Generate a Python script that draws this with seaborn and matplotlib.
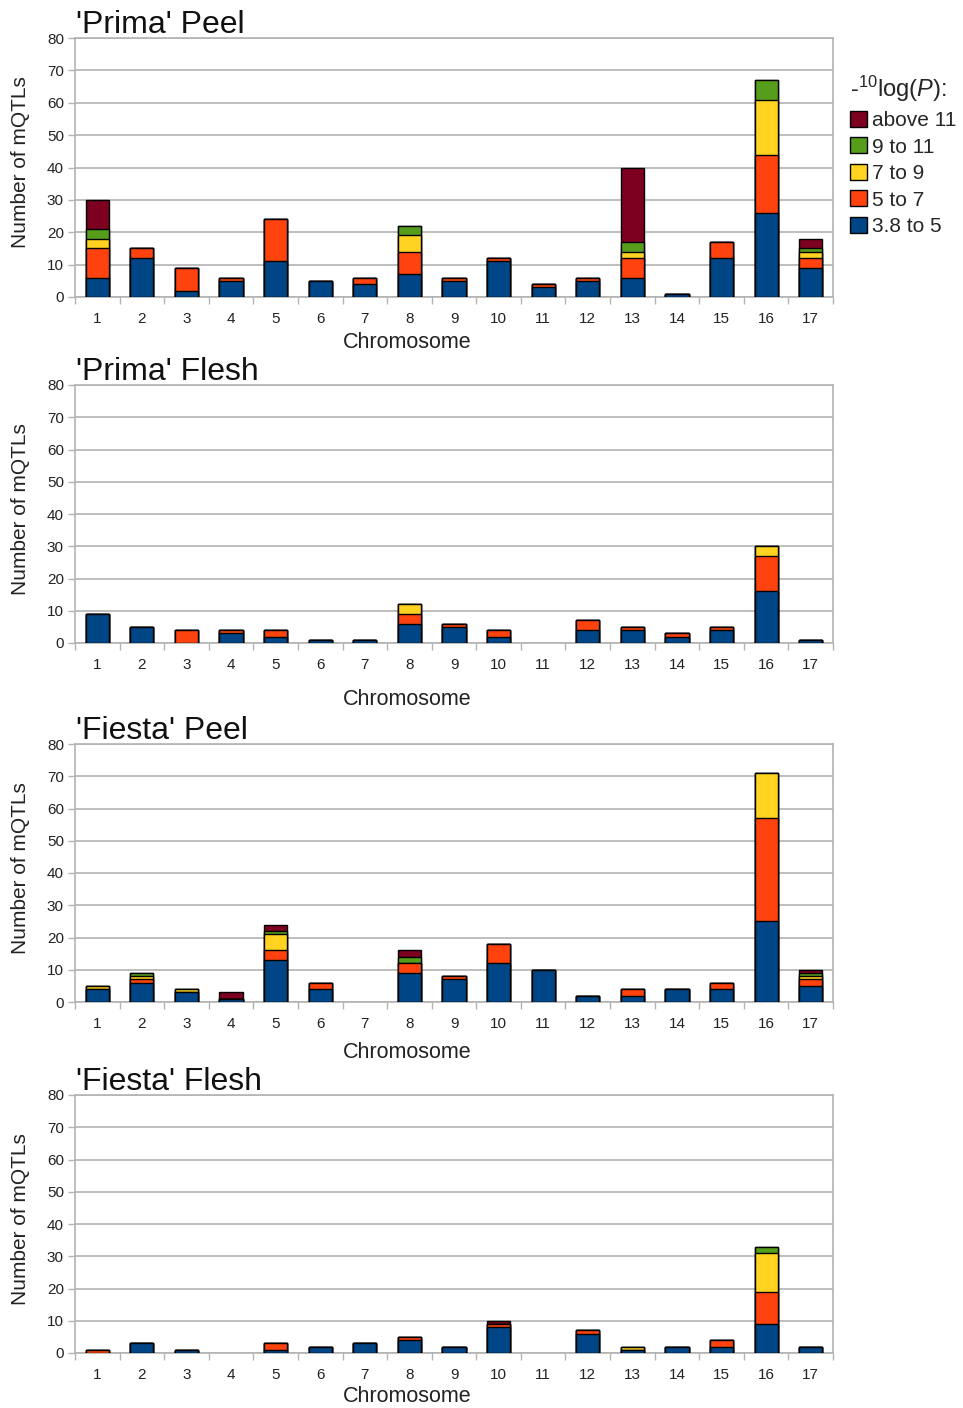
import numpy as np
import pandas as pd
import matplotlib
matplotlib.use("Agg")
import matplotlib.pyplot as plt
from matplotlib.patches import Patch
import seaborn as sns

# Chromosome categories
chromosomes = [str(i) for i in range(1, 18)]

# Significance classes (-10log(P)), bottom to top of each stack
classes = ["3.8 to 5", "5 to 7", "7 to 9", "9 to 11", "above 11"]
class_colors = ["#004586", "#ff420e", "#ffd320", "#579d1c", "#7e0021"]

# 'Prima' Peel
prima_peel_38_5 = [6, 12, 2, 5, 11, 5, 4, 7, 5, 11, 3, 5, 6, 1, 12, 26, 9]
prima_peel_5_7 = [9, 3, 7, 1, 13, 0, 2, 7, 1, 1, 1, 1, 6, 0, 5, 18, 3]
prima_peel_7_9 = [3, 0, 0, 0, 0, 0, 0, 5, 0, 0, 0, 0, 2, 0, 0, 17, 2]
prima_peel_9_11 = [3, 0, 0, 0, 0, 0, 0, 3, 0, 0, 0, 0, 3, 0, 0, 6, 1]
prima_peel_11 = [9, 0, 0, 0, 0, 0, 0, 0, 0, 0, 0, 0, 23, 0, 0, 0, 3]

# 'Prima' Flesh
prima_flesh_38_5 = [9, 5, 0, 3, 2, 1, 1, 6, 5, 2, 0, 4, 4, 2, 4, 16, 1]
prima_flesh_5_7 = [0, 0, 4, 1, 2, 0, 0, 3, 1, 2, 0, 3, 1, 1, 1, 11, 0]
prima_flesh_7_9 = [0, 0, 0, 0, 0, 0, 0, 3, 0, 0, 0, 0, 0, 0, 0, 3, 0]
prima_flesh_9_11 = [0] * 17
prima_flesh_11 = [0] * 17

# 'Fiesta' Peel
fiesta_peel_38_5 = [4, 6, 3, 1, 13, 4, 0, 9, 7, 12, 10, 2, 2, 4, 4, 25, 5]
fiesta_peel_5_7 = [0, 1, 0, 0, 3, 2, 0, 3, 1, 6, 0, 0, 2, 0, 2, 32, 2]
fiesta_peel_7_9 = [1, 1, 1, 0, 5, 0, 0, 0, 0, 0, 0, 0, 0, 0, 0, 14, 1]
fiesta_peel_9_11 = [0, 1, 0, 0, 1, 0, 0, 2, 0, 0, 0, 0, 0, 0, 0, 0, 1]
fiesta_peel_11 = [0, 0, 0, 2, 2, 0, 0, 2, 0, 0, 0, 0, 0, 0, 0, 0, 1]

# 'Fiesta' Flesh
fiesta_flesh_38_5 = [0, 3, 1, 0, 1, 2, 3, 4, 2, 8, 0, 6, 1, 2, 2, 9, 2]
fiesta_flesh_5_7 = [1, 0, 0, 0, 2, 0, 0, 1, 0, 1, 0, 1, 0, 0, 2, 10, 0]
fiesta_flesh_7_9 = [0, 0, 0, 0, 0, 0, 0, 0, 0, 0, 0, 0, 1, 0, 0, 12, 0]
fiesta_flesh_9_11 = [0, 0, 0, 0, 0, 0, 0, 0, 0, 0, 0, 0, 0, 0, 0, 2, 0]
fiesta_flesh_11 = [0, 0, 0, 0, 0, 0, 0, 0, 0, 1, 0, 0, 0, 0, 0, 0, 0]

panel_titles = ["'Prima' Peel", "'Prima' Flesh", "'Fiesta' Peel", "'Fiesta' Flesh"]
panel_layers = [
    [prima_peel_38_5, prima_peel_5_7, prima_peel_7_9, prima_peel_9_11, prima_peel_11],
    [prima_flesh_38_5, prima_flesh_5_7, prima_flesh_7_9, prima_flesh_9_11, prima_flesh_11],
    [fiesta_peel_38_5, fiesta_peel_5_7, fiesta_peel_7_9, fiesta_peel_9_11, fiesta_peel_11],
    [fiesta_flesh_38_5, fiesta_flesh_5_7, fiesta_flesh_7_9, fiesta_flesh_9_11, fiesta_flesh_11],
]
y_ticks = list(range(0, 81, 10))

sns.set_style("whitegrid")
plt.rcParams["font.family"] = ["Liberation Sans", "DejaVu Sans"]
plt.rcParams["mathtext.fontset"] = "custom"
plt.rcParams["mathtext.rm"] = "Liberation Sans"
plt.rcParams["mathtext.it"] = "Liberation Sans:italic"

W, H = 963, 1408
fig = plt.figure(figsize=(W / 100, H / 100), dpi=100)
GRID = "#b3b3b3"

# pixel geometry of each panel: (top, bottom) of the plotting area
panel_px = [(38, 297), (385, 643), (744, 1002), (1095, 1353)]
xlabel_px = [343, 700, 1052, 1397]
left_px, right_px = 75, 833

for k, (title, layers) in enumerate(zip(panel_titles, panel_layers)):
    top, bot = panel_px[k]
    ax = fig.add_axes([left_px / W, 1 - bot / H, (right_px - left_px) / W, (bot - top) / H])

    counts = np.array(layers)
    cum = np.cumsum(counts, axis=0)
    # draw cumulative totals from the top class down so each class shows as a segment
    for j in range(len(classes) - 1, -1, -1):
        df = pd.DataFrame({"chromosome": chromosomes, "total": cum[j]})
        sns.barplot(data=df, x="chromosome", y="total", order=chromosomes,
                    color=class_colors[j], saturation=1, width=0.52,
                    edgecolor="black", linewidth=1.0, errorbar=None, ax=ax, zorder=3)
    for p in ax.patches:
        if p.get_height() == 0:
            p.set_linewidth(0)

    ax.set_xlim(-0.5, 16.5)
    ax.set_ylim(0, 80)
    ax.set_yticks(y_ticks)
    ax.set_xticks(range(17))
    ax.set_xticklabels(chromosomes)
    ax.set_xticks(np.arange(-0.5, 17, 1), minor=True)
    ax.tick_params(axis="x", which="major", length=0, labelsize=11, pad=11, colors="#222222")
    ax.tick_params(axis="x", which="minor", length=5, width=1, color=GRID, direction="out",
                   bottom=True)
    ax.tick_params(axis="y", which="major", length=5, width=1, color=GRID, direction="out",
                   labelsize=11, pad=3, left=True, labelcolor="#222222")
    ax.grid(axis="y", color=GRID, linewidth=1.2, zorder=0)
    ax.grid(axis="x", visible=False)
    ax.set_axisbelow(True)
    for s in ax.spines.values():
        s.set_color(GRID)
        s.set_linewidth(1.2)
    ax.set_xlabel("")
    ax.set_ylabel("")

    fig.text(76 / W, 1 - (top - 5) / H, title, fontsize=23, ha="left", va="baseline",
             color="#111111")
    fig.text(407 / W, 1 - xlabel_px[k] / H, "Chromosome", fontsize=15.5, ha="center",
             va="center", color="#222222")
    fig.text(21 / W, 1 - ((top + bot) / 2 - 5) / H, "Number of mQTLs", fontsize=15,
             rotation=90, ha="center", va="center", color="#222222")

# legend for the significance classes, highest first
handles = [Patch(facecolor=c, edgecolor="black", linewidth=1.0)
           for c in class_colors[::-1]]
leg = fig.legend(handles, classes[::-1], loc="upper left",
                 bbox_to_anchor=(842 / W, 1 - 65 / H),
                 title=r"-$^{10}$log($\it{P}$):", title_fontsize=17, fontsize=15,
                 frameon=False, handlelength=0.8, handleheight=0.8, handletextpad=0.25,
                 labelspacing=0.35, borderaxespad=0, alignment="left")

fig.savefig("out.png", dpi=100)
